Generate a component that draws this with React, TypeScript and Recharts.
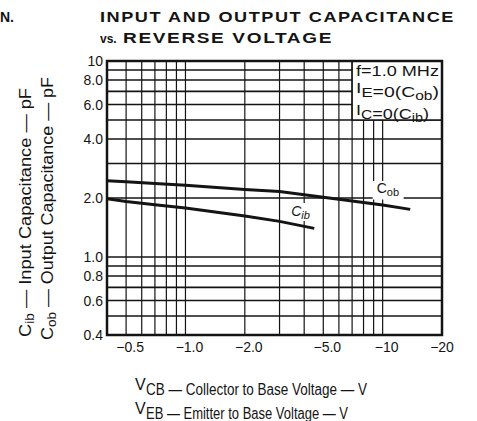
import React from "react";
import {
  LineChart,
  Line,
  XAxis,
  YAxis,
  ReferenceLine,
  ReferenceArea,
  ReferenceDot,
} from "recharts";

// Reverse voltage magnitudes (V) and capacitances (pF)
const cobVoltage = [0.4, 0.5, 0.7, 1, 2, 3, 5, 7, 10, 13.8];
const cobCapacitance = [2.45, 2.42, 2.37, 2.32, 2.21, 2.16, 2.02, 1.93, 1.84, 1.75];
const cibVoltage = [0.4, 0.5, 0.7, 1, 2, 3, 4.5];
const cibCapacitance = [1.98, 1.92, 1.85, 1.78, 1.62, 1.52, 1.4];

const xTicks = [0.5, 1, 2, 5, 10, 20];
const xTickLabels = ["−0.5", "−1.0", "−2.0", "−5.0", "−10", "−20"];
const yTicks = [0.4, 0.6, 0.8, 1, 2, 4, 6, 8, 10];
const yTickLabels = ["0.4", "0.6", "0.8", "1.0", "2.0", "4.0", "6.0", "8.0", "10"];
const xGrid = [0.5, 0.6, 0.7, 0.8, 0.9, 1, 2, 3, 4, 5, 6, 7, 8, 9, 10];
const yGrid = [0.5, 0.6, 0.7, 0.8, 0.9, 1, 2, 3, 4, 5, 6, 7, 8, 9];

const cobData = cobVoltage.map((v, i) => ({ v, c: cobCapacitance[i] }));
const cibData = cibVoltage.map((v, i) => ({ v, c: cibCapacitance[i] }));

const FONT = "'Liberation Sans', Arial, sans-serif";
const INK = "#141414";

const XTick = (props: any) => {
  const { x, y, payload } = props;
  const idx = xTicks.indexOf(payload.value);
  const shift = payload.value === 20 ? 0 : 4;
  return (
    <text x={x + shift} y={y} dy="0.71em" textAnchor="middle" fontFamily={FONT} fontSize={14} fill={INK}>
      {xTickLabels[idx]}
    </text>
  );
};

const YTick = (props: any) => {
  const { x, y, payload } = props;
  const idx = yTicks.indexOf(payload.value);
  return (
    <text x={x} y={y} dy="0.36em" textAnchor="end" fontFamily={FONT} fontSize={14} fill={INK}>
      {yTickLabels[idx]}
    </text>
  );
};

const CobLabel = (props: any) => {
  const { cx, cy } = props;
  return (
    <g>
      <rect x={cx - 10} y={cy - 17} width={31} height={18.5} fill="#fff" />
      <text x={cx - 6} y={cy - 5} fontFamily={FONT} fontSize={14} fill={INK}>
        C<tspan fontSize={11} dy={3}>ob</tspan>
      </text>
    </g>
  );
};

const CibLabel = (props: any) => {
  const { cx, cy } = props;
  return (
    <g>
      <rect x={cx - 15} y={cy - 14} width={24} height={18} fill="#fff" />
      <text x={cx - 13} y={cy - 1} fontFamily={FONT} fontSize={14} fontStyle="italic" fill={INK}>
        C<tspan fontSize={11} dy={3}>ib</tspan>
      </text>
    </g>
  );
};

export default function App() {
  return (
    <div style={{ position: "absolute", left: 0, top: 0, width: 477, height: 421, background: "#fff" }}>
      <LineChart width={477} height={421} margin={{ top: 61, right: 35, bottom: 56, left: 47 }}>
        <XAxis
          dataKey="v"
          type="number"
          scale="log"
          domain={[0.4, 20]}
          allowDataOverflow
          ticks={xTicks}
          interval={0}
          tick={<XTick />}
          tickSize={0}
          tickMargin={7}
          axisLine={false}
          tickLine={false}
          height={30}
        />
        <YAxis
          dataKey="c"
          type="number"
          scale="log"
          domain={[0.4, 10]}
          allowDataOverflow
          ticks={yTicks}
          interval={0}
          tick={<YTick />}
          tickSize={0}
          tickMargin={4}
          axisLine={false}
          tickLine={false}
          width={60}
        />
        {xGrid.map((g) => (
          <ReferenceLine key={"x" + g} x={g} stroke={INK} strokeWidth={1.2} zIndex={100} />
        ))}
        {yGrid.map((g) => (
          <ReferenceLine key={"y" + g} y={g} stroke={INK} strokeWidth={1.6} zIndex={100} />
        ))}
        <ReferenceArea x1={7} x2={20} y1={5} y2={10} fill="#fff" fillOpacity={1} stroke={INK} strokeWidth={1.6} zIndex={150} />
        <ReferenceDot x={10} y={2} r={0} shape={<CobLabel />} zIndex={200} />
        <ReferenceDot x={4} y={1.6} r={0} shape={<CibLabel />} zIndex={200} />
        <Line data={cobData} dataKey="c" stroke={INK} strokeWidth={3} dot={false} isAnimationActive={false} zIndex={400} />
        <Line data={cibData} dataKey="c" stroke={INK} strokeWidth={3} dot={false} isAnimationActive={false} zIndex={400} />
        <ReferenceArea x1={0.4} x2={20} y1={0.4} y2={10} fill="none" stroke={INK} strokeWidth={2.5} zIndex={450} />
      </LineChart>
      <svg
        width={477}
        height={421}
        style={{ position: "absolute", left: 0, top: 0, pointerEvents: "none" }}
      >
        <text x={0} y={22} fontFamily={FONT} fontWeight="bold" fontSize={14} fill={INK}>N.</text>
        <text x={100} y={22} fontFamily={FONT} fontWeight="bold" fontSize={14} fill={INK} letterSpacing={1.2} textLength={355} lengthAdjust="spacingAndGlyphs">
          INPUT AND OUTPUT CAPACITANCE
        </text>
        <text x={100} y={43} fontFamily={FONT} fontWeight="bold" fontSize={12} fill={INK}>vs.</text>
        <text x={123} y={43} fontFamily={FONT} fontWeight="bold" fontSize={14} fill={INK} letterSpacing={1.2} textLength={210} lengthAdjust="spacingAndGlyphs">
          REVERSE VOLTAGE
        </text>

        {/* legend box text */}
        <text x={356} y={76} fontFamily={FONT} fontSize={14} fill={INK} textLength={83} lengthAdjust="spacingAndGlyphs">
          f=1.0 MHz
        </text>
        <text x={356} y={97} fontFamily={FONT} fontSize={15} fill={INK} textLength={83} lengthAdjust="spacingAndGlyphs">
          <tspan dy={-4}>I</tspan>
          <tspan dy={4} fontSize={13}>E</tspan>
          <tspan>=0(C</tspan>
          <tspan dy={3} fontSize={12}>ob</tspan>
          <tspan dy={-3}>)</tspan>
        </text>
        <text x={356} y={119} fontFamily={FONT} fontSize={15} fill={INK} textLength={73} lengthAdjust="spacingAndGlyphs">
          <tspan dy={-4}>I</tspan>
          <tspan dy={4} fontSize={13}>C</tspan>
          <tspan>=0(C</tspan>
          <tspan dy={3} fontSize={12}>ib</tspan>
          <tspan dy={-3}>)</tspan>
        </text>

        {/* x axis title */}
        <text x={135} y={390} fontFamily={FONT} fontSize={16} fill={INK}>V</text>
        <text x={146} y={395} fontFamily={FONT} fontSize={16} fill={INK} textLength={221} lengthAdjust="spacingAndGlyphs">
          CB — Collector to Base Voltage — V
        </text>
        <text x={135} y={414} fontFamily={FONT} fontSize={16} fill={INK}>V</text>
        <text x={146} y={419} fontFamily={FONT} fontSize={16} fill={INK} textLength={202} lengthAdjust="spacingAndGlyphs">
          EB — Emitter to Base Voltage — V
        </text>

        {/* y axis title */}
        <text
          x={0}
          y={0}
          transform="translate(31,212.5) rotate(-90)"
          textAnchor="middle"
          fontFamily={FONT}
          fontSize={16}
          fill={INK}
          textLength={249}
          lengthAdjust="spacingAndGlyphs"
        >
          C<tspan dy={3} fontSize={12}>ib</tspan>
          <tspan dy={-3}> — Input Capacitance — pF</tspan>
        </text>
        <text
          x={0}
          y={0}
          transform="translate(53,208.5) rotate(-90)"
          textAnchor="middle"
          fontFamily={FONT}
          fontSize={16}
          fill={INK}
          textLength={263}
          lengthAdjust="spacingAndGlyphs"
        >
          C<tspan dy={3} fontSize={12}>ob</tspan>
          <tspan dy={-3}> — Output Capacitance — pF</tspan>
        </text>
      </svg>
    </div>
  );
}
